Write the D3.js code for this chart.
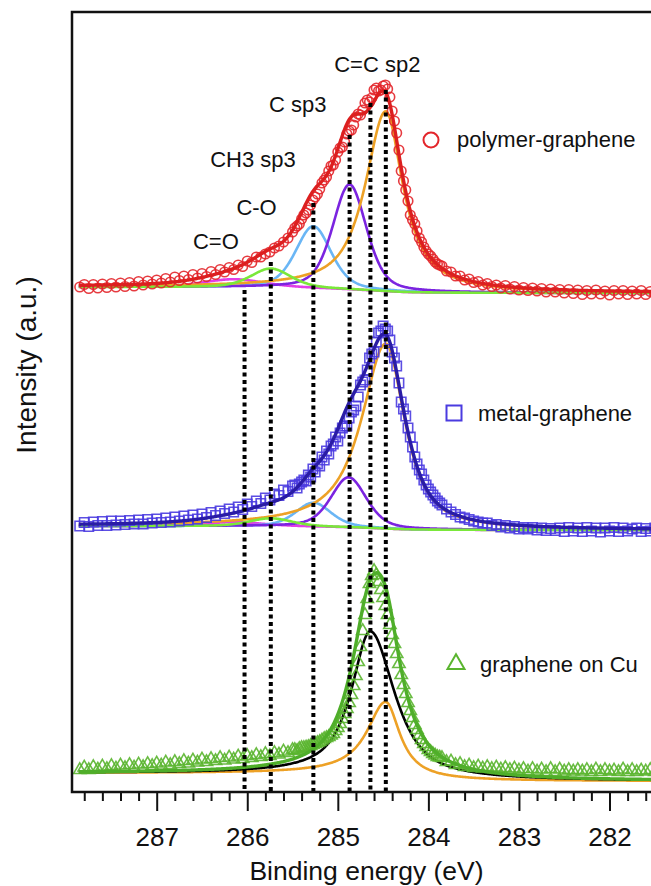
<!DOCTYPE html>
<html><head><meta charset="utf-8">
<script src="https://cdn.jsdelivr.net/npm/d3@7"></script>
<style>
body{margin:0;background:#fff}
svg{display:block;font-family:"Liberation Sans",Arial,Helvetica,sans-serif}
</style>
</head><body>
<svg id="chart" width="651" height="886"></svg>
<script>
// ---------------- DATA ----------------
// binding energy grid of the measured points (eV): first point and step
const eStart = 287.85, eStep = 0.05;
// extra interleaved points recorded across the main peak (eV)
const midStart = 285.475;

// measured intensities (a.u., above each spectrum's offset)
const polymerData = [6,8.5,4.5,8.5,5,9,5.5,9.5,6,10,
 6.5,10.5,7,11.5,8,12,9,13,10,14.5,
 11,16,12.5,17,13.5,18.5,15,19.5,16.5,21.5,
 18.5,23.5,21,25.5,23.5,28,26.5,32,30.5,36,
 36,39,41,45,47,51,55,61,67,74,
 80,88,96,104,113,122,128,141,146,159,
 163,176,178,190,191,203,202,207,204,182,
 160,122,103,78,69,55,46,39,34,29,
 27,22,21,17,17,13,14,10.5,11.5,8,
 9.5,6.5,8,5,7.5,4,6.5,3,5.5,2.5,
 5,2,4.5,1,4,1,3.5,0,3.5,-0.5,
 3,-1.5,2.5,-1,3,-1,2,-2,2.5,-1,
 2.5,-1.5,2,-1,2.5,-1.5,1.5,-1,2];
const polymerMid = [65,69,78,83,93,99,110,116,127,133,
 145,151,162,168,179,183,193,195,205,203,
 208,196,172,143,112,92,73,62,51,42,
 37,31,28];

const metalData = [4,7.5,3.5,8,4.5,8.5,4.5,9,5,9,
 5.5,9.5,6,10,6,10.5,7,11,7.5,12,
 8,13,9,14,10,15,11,16,12.5,17.5,
 14.5,19,16.5,21,18,23,20.5,26,23.5,29,
 26.5,32,30,36,34.5,40,38.5,44,42,48,
 49,53,58,64,70,76,86,89,102,104,
 118,124,145,150,172,178,197,204,199,178,
 164,128,114,93,73,60,50,41,35,29,
 25,21,18,15.5,13,12,10.5,9,8,7,
 7,4.5,5.5,3,4.5,2,3.5,1,2.5,1,
 2.5,0,2,-0.5,1.5,-0.5,2,-1.5,2.5,-1,
 2,-1.5,2.5,-1,2,-2,2,-1,2.5,-1.5,
 2,-1,1,2,-1.5,1.5,-1,2,-1];
const metalMid = [45,46,50,55,61,66,73,79,84,93,
 97,104,112,120,133,148,160,176,188,199,
 201,190,172,147,121,102,83,66,56,45,
 38,32,27];

const cuData = [11,13.5,11,14,11.5,14.5,12,15,12.5,15.5,
 13,16,13.5,16.5,14,17,15,17.5,15.5,18.5,
 16,19,17,20,17.5,20.5,18.5,21.5,19,22,
 20,23,20.5,23.5,21.5,24.5,22,25,23,26,
 24,27,25,28,26.5,29.5,28,31,30,33,
 33.5,35,37,39,42,44,47,53,62,72,
 86,105,134,166,197,210,199,183,166,146,
 127,106,87,70,56,46,37,31,27,24,
 23,19,19.5,16,17,14,15.5,13,14.5,12.5,
 14,12,13.5,11.5,13,11,12.5,10.5,12,9.5,
 12,9.5,11.5,9,12,9,11.5,9.5,11,9.5,
 11,9.5,11,9,11.5,9,11,9.5,10.5,9,
 11.5,9,11,9,10.5,9.5,11,9,10.5];
const cuMid = [31,32,33,34,36,38,40.5,43,45.5,50,
 57,67,78,95,119,150,182,205,206,191,
 175,156,137,117,96,78,63,51,41,34,
 29,25.5,23.5];

// vertical offsets of the stacked spectra and Shirley background steps (a.u.)
const spectrumOffsets = [499, 262, 11];
const shirleySteps = [6, 4, 8];

// fitted components: centre (eV), height (a.u.), half widths left/right (eV), Lorentzian fraction left/right
const componentNames = ["C=O", "C-O", "CH3 sp3", "C sp3", "C=C sp2"];
const polymerFit = [
  {c:286.15, h:8,   wL:0.40, wR:0.40, eL:0.4,  eR:0.4},
  {c:285.74, h:19,  wL:0.26, wR:0.26, eL:0.4,  eR:0.4},
  {c:285.27, h:62,  wL:0.23, wR:0.23, eL:0.4,  eR:0.4},
  {c:284.87, h:105, wL:0.22, wR:0.22, eL:0.4,  eR:0.4},
  {c:284.47, h:180, wL:0.27, wR:0.23, eL:0.85, eR:1.0}
];
const metalFit = [
  {c:286.15, h:4,   wL:0.40, wR:0.40, eL:0.4, eR:0.4},
  {c:285.74, h:8,   wL:0.28, wR:0.28, eL:0.4, eR:0.4},
  {c:285.27, h:24,  wL:0.23, wR:0.23, eL:0.4, eR:0.4},
  {c:284.88, h:50,  wL:0.23, wR:0.23, eL:0.4, eR:0.4},
  {c:284.47, h:185, wL:0.32, wR:0.25, eL:0.9, eR:0.8}
];
const cuComponentNames = ["C=C sp2", "graphene"];
const cuFit = [
  {c:284.47, h:76,  wL:0.25, wR:0.19, eL:1.0, eR:1.0},
  {c:284.64, h:145, wL:0.25, wR:0.32, eL:0.9, eR:0.8}
];

// dotted reference lines: energy (eV) and top (a.u.)
const refEnergies = [286.03, 285.74, 285.27, 284.87, 284.64, 284.47];
const refTops = [502, 530, 589, 657, 689, 702];

const peakLabels = ["C=O", "C-O", "CH3 sp3", "C sp3", "C=C sp2"];
const legendLabels = ["polymer-graphene", "metal-graphene", "graphene on Cu"];
const majorTicks = [287, 286, 285, 284, 283, 282];
const xTitle = "Binding energy (eV)";
const yTitle = "Intensity (a.u.)";

// ---------------- LAYOUT ----------------
const svg = d3.select("#chart");
const plotLeft = 72, plotTop = 12, plotBottom = 792, plotRight = 700;
const x = d3.scaleLinear().domain([287, 282]).range([156.7, 609.5]);
const y = d3.scaleLinear().domain([0, 780]).range([plotBottom, plotTop]);

svg.append("defs").append("clipPath").attr("id", "clip")
  .append("rect").attr("x", plotLeft + 1).attr("y", plotTop + 1)
  .attr("width", plotRight - plotLeft).attr("height", plotBottom - plotTop - 1);

const plot = svg.append("g").attr("clip-path", "url(#clip)");

// peak model
function pv(d, w, eta) { const r = (d / w) * (d / w); return eta / (1 + r) + (1 - eta) * Math.exp(-Math.LN2 * r); }
function comp(e, p) { const d = e - p.c; return d >= 0 ? p.h * pv(d, p.wL, p.eL) : p.h * pv(-d, p.wR, p.eR); }

const eLo = 281.3, eHi = 287.86;
const grid = d3.range(0, Math.round((eHi - eLo) / 0.01) + 1).map(i => eLo + i * 0.01);

function shirley(peaks, step) {
  const tot = grid.map(e => d3.sum(peaks, p => comp(e, p)));
  let cum = 0; const c = tot.map(v => (cum += v));
  return grid.map((e, i) => step * c[i] / cum);
}

const line = d3.line().x(d => x(d[0])).y(d => y(d[1])).curve(d3.curveLinear);

const spectra = [
  {data: polymerData, mid: polymerMid, fit: polymerFit, offset: spectrumOffsets[0], step: shirleySteps[0],
   compColors: ["#e23ee6", "#7ae83a", "#6ab6f5", "#7b24e0", "#eda126"], drawOrder: [0, 2, 3, 4, 1],
   fitColor: "#dc1f1f", markColor: "#e3262b", symbol: d3.symbolCircle, symSize: 72},
  {data: metalData, mid: metalMid, fit: metalFit, offset: spectrumOffsets[1], step: shirleySteps[1],
   compColors: ["#e23ee6", "#7ae83a", "#6ab6f5", "#7b24e0", "#eda126"], drawOrder: [0, 2, 3, 4, 1],
   fitColor: "#2a1ca6", markColor: "#4a3be0", symbol: d3.symbolSquare, symSize: 88},
  {data: cuData, mid: cuMid, fit: cuFit, offset: spectrumOffsets[2], step: shirleySteps[2],
   compColors: ["#eda126", "#000000"], drawOrder: [0, 1],
   fitColor: "#4fae2a", markColor: "#5ab52f", symbol: d3.symbolTriangle, symSize: 66}
];

spectra.forEach(s => {
  const bg = shirley(s.fit, s.step);
  // components
  s.drawOrder.forEach(k => {
    const p = s.fit[k];
    const pts = grid.map((e, i) => [e, s.offset + bg[i] + comp(e, p)]);
    plot.append("path").attr("d", line(pts)).attr("fill", "none")
      .attr("stroke", s.compColors[k]).attr("stroke-width", 2.6);
  });
  // measured points
  const pts = s.data.map((v, i) => [eStart - i * eStep, s.offset + v])
    .concat(s.mid.map((v, i) => [midStart - i * eStep, s.offset + v]));
  plot.append("g").selectAll("path").data(pts).join("path")
    .attr("transform", d => `translate(${x(d[0])},${y(d[1])})`)
    .attr("d", d3.symbol().type(s.symbol).size(s.symSize))
    .attr("fill", "none").attr("stroke", s.markColor).attr("stroke-width", 1.6).attr("stroke-opacity", 0.9);
  // envelope
  const env = grid.map((e, i) => [e, s.offset + bg[i] + d3.sum(s.fit, p => comp(e, p))]);
  plot.append("path").attr("d", line(env)).attr("fill", "none")
    .attr("stroke", s.fitColor).attr("stroke-width", 3.4);
});

// dotted reference lines
plot.append("g").selectAll("line").data(refEnergies).join("line")
  .attr("x1", d => x(d)).attr("x2", d => x(d))
  .attr("y1", (d, i) => y(refTops[i])).attr("y2", y(0))
  .attr("stroke", "#000").attr("stroke-width", 4).attr("stroke-dasharray", "4,3.5");

// frame
svg.append("rect").attr("x", plotLeft).attr("y", plotTop)
  .attr("width", plotRight - plotLeft).attr("height", plotBottom - plotTop)
  .attr("fill", "none").attr("stroke", "#111").attr("stroke-width", 2.5);

// axis
const minorTicks = d3.range(0, 32).map(i => +(287.8 - i * 0.2).toFixed(1)).filter(v => !majorTicks.includes(v));
const gMinor = svg.append("g").attr("transform", `translate(0,${plotBottom})`)
  .call(d3.axisBottom(x).tickValues(minorTicks).tickSize(9).tickFormat(""));
gMinor.select(".domain").remove();
gMinor.selectAll(".tick line").attr("stroke", "#111").attr("stroke-width", 2);

const gMajor = svg.append("g").attr("transform", `translate(0,${plotBottom})`)
  .call(d3.axisBottom(x).tickValues(majorTicks).tickSize(19).tickFormat(d3.format("d")));
gMajor.select(".domain").remove();
gMajor.attr("font-size", 26).attr("font-family", "Liberation Sans, Arial, sans-serif");
gMajor.selectAll(".tick line").attr("stroke", "#111").attr("stroke-width", 2);
gMajor.selectAll(".tick text").attr("y", 54).attr("dy", 0).attr("fill", "#111");

// axis titles
svg.append("text").attr("x", 366.5).attr("y", 880).attr("text-anchor", "middle")
  .attr("font-size", 26.5).attr("fill", "#111").text(xTitle);
svg.append("text").attr("transform", "translate(36,365) rotate(-90)").attr("text-anchor", "middle")
  .attr("font-size", 28).attr("fill", "#111").text(yTitle);

// peak labels (energy of text start, a.u. of baseline)
const labelLayout = [[286.6, 543], [286.12, 577], [286.41, 625], [285.76, 680], [285.04, 720]];
svg.append("g").selectAll("text").data(peakLabels).join("text")
  .attr("x", (d, i) => x(labelLayout[i][0])).attr("y", (d, i) => y(labelLayout[i][1]))
  .attr("font-size", 22).attr("fill", "#111").text(d => d);

// legend
const legendLayout = [
  {mx: 431, my: 140, tx: 457, ty: 147, sym: d3.symbolCircle, size: 177, color: "#e3262b"},
  {mx: 454, my: 413, tx: 478, ty: 420.5, sym: d3.symbolSquare, size: 225, color: "#4a3be0"},
  {mx: 456, my: 664, tx: 480, ty: 672, sym: d3.symbolTriangle, size: 125, color: "#5ab52f"}
];
const lg = svg.append("g");
legendLabels.forEach((t, i) => {
  const L = legendLayout[i];
  lg.append("path").attr("transform", `translate(${L.mx},${L.my})`)
    .attr("d", d3.symbol().type(L.sym).size(L.size)).attr("fill", "none")
    .attr("stroke", L.color).attr("stroke-width", 2);
  lg.append("text").attr("x", L.tx).attr("y", L.ty).attr("font-size", 22).attr("fill", "#111").text(t);
});
</script>
</body></html>
